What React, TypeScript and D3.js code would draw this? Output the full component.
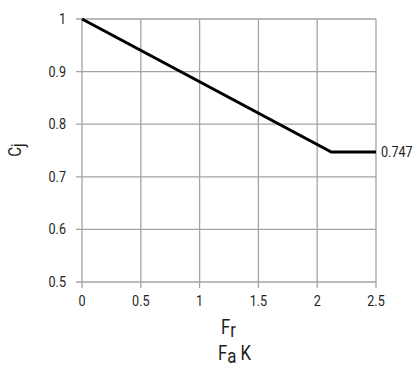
import React from "react";
import * as d3 from "d3";

const xTicks = [0, 0.5, 1, 1.5, 2, 2.5];
const yTicks = [0.5, 0.6, 0.7, 0.8, 0.9, 1];
const curveX = [0, 2.12, 2.5];
const curveY = [1, 0.747, 0.747];
const endLabel = "0.747";

const W = 415, H = 367;
const FONT = "Roboto, 'Liberation Sans', sans-serif";
const SX = 0.84;

function CText({ x, y, size, anchor = "start", children, fill = "#1e1e1e" }: any) {
  return (
    <text transform={`translate(${x},${y}) scale(${SX},1)`} textAnchor={anchor} fontSize={size} fill={fill}>
      {children}
    </text>
  );
}

export default function App() {
  const x = d3.scaleLinear().domain([0, 2.5]).range([82, 376]);
  const y = d3.scaleLinear().domain([0.5, 1]).range([282, 19]);
  const pts = curveX.map((v, i) => [v, curveY[i]] as [number, number]);
  const line = d3.line<[number, number]>().x(d => x(d[0])).y(d => y(d[1]));
  const grid = "#a3a3a3";
  return (
    <svg width={W} height={H} style={{ position: "absolute", left: 0, top: 0, background: "#fff" }} fontFamily={FONT}>
      {xTicks.map(t => (
        <line key={"gx" + t} x1={x(t)} x2={x(t)} y1={y(1)} y2={y(0.5) + 6} stroke={grid} strokeWidth={1.3} />
      ))}
      {yTicks.map(t => (
        <line key={"gy" + t} x1={x(0) - 6} x2={x(2.5)} y1={y(t)} y2={y(t)} stroke={grid} strokeWidth={1.3} />
      ))}
      {xTicks.map(t => (
        <CText key={"tx" + t} x={x(t)} y={y(0.5) + 24} anchor="middle" size={15}>{String(t)}</CText>
      ))}
      {yTicks.map(t => (
        <CText key={"ty" + t} x={66} y={y(t) + 5} anchor="end" size={15}>{String(t)}</CText>
      ))}
      <path d={line(pts) || ""} fill="none" stroke="#000" strokeWidth={3} strokeLinejoin="miter" />
      <CText x={x(2.5) + 5} y={y(0.747) + 5} size={15}>{endLabel}</CText>
      <text transform={`translate(21,150) rotate(-90) scale(${SX},1)`} textAnchor="middle" fontSize={18} fill="#1e1e1e">
        C<tspan dy={3}>j</tspan>
      </text>
      <CText x={221} y={334} size={20}>
        F<tspan dy={3}>r</tspan>
      </CText>
      <CText x={218} y={360} size={20}>
        F<tspan dy={3}>a</tspan><tspan dy={-3}> K</tspan>
      </CText>
    </svg>
  );
}
